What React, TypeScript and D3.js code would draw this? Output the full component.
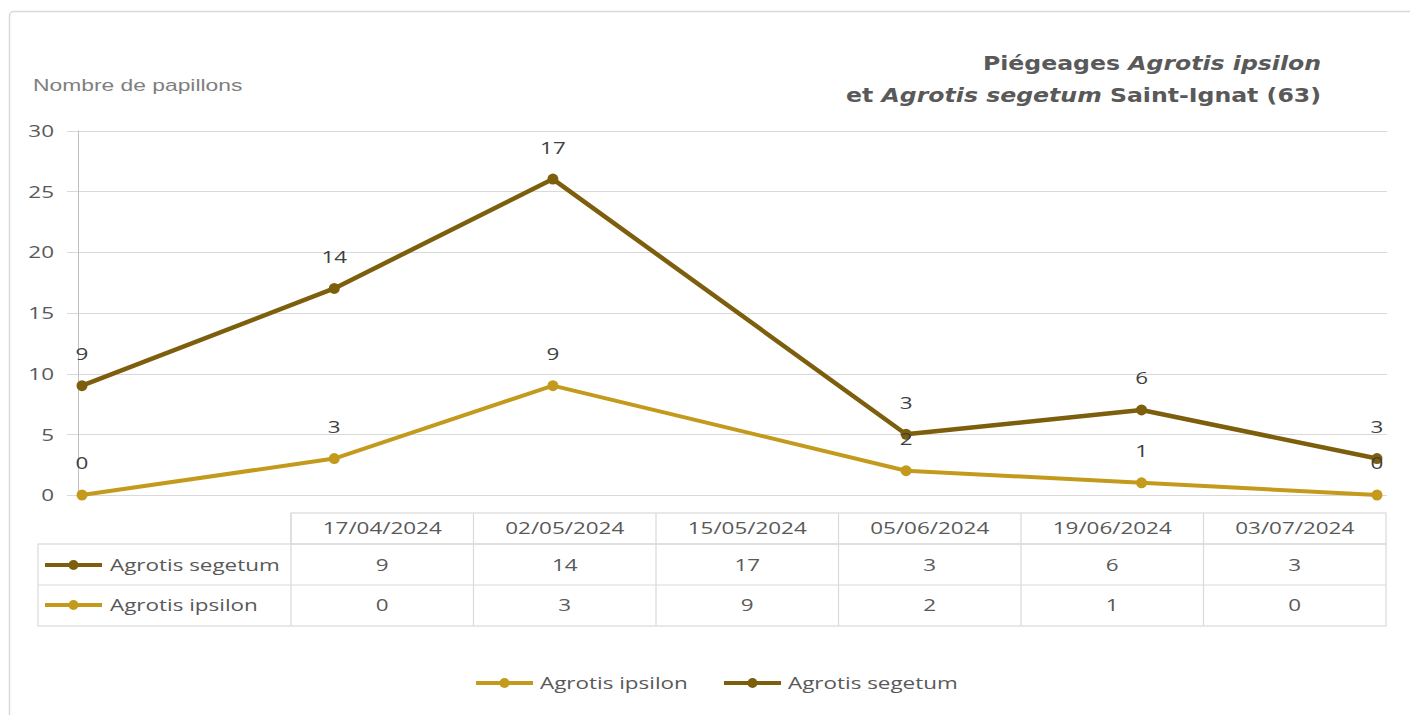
import React from "react";
import * as d3 from "d3";

// Trap counts per sampling date
const dateLabels = ["17/04/2024", "02/05/2024", "15/05/2024", "05/06/2024", "19/06/2024", "03/07/2024"];
const segetum = [9, 14, 17, 3, 6, 3];
const ipsilon = [0, 3, 9, 2, 1, 0];
const yTicks = [0, 5, 10, 15, 20, 25, 30];

const COL_SEGETUM = "#7C5E0C";
const COL_IPSILON = "#C49A1C";
const GRID = "#d9d9d9";
const TEXT = "#595959";
const SX = 1.32;

const parseDate = d3.timeParse("%d/%m/%Y");
const dates = dateLabels.map((s) => parseDate(s) as Date);

type TProps = {
  x: number;
  y: number;
  anchor?: "start" | "middle" | "end";
  size?: number;
  family?: string;
  weight?: string | number;
  fill?: string;
  sx?: number;
  children: React.ReactNode;
};

// Text drawn with a horizontal stretch around its anchor point
function ST({ x, y, anchor = "start", size = 17, family = "'Open Sans', sans-serif", weight = 400, fill = TEXT, sx = SX, children }: TProps) {
  return (
    <text
      transform={`translate(${x},${y}) scale(${sx},1)`}
      textAnchor={anchor}
      dominantBaseline="central"
      fontSize={size}
      fontFamily={family}
      fontWeight={weight}
      fill={fill}
    >
      {children}
    </text>
  );
}

function LegendKey({ x, y, color }: { x: number; y: number; color: string }) {
  return (
    <g>
      <line x1={x} x2={x + 57} y1={y} y2={y} stroke={color} strokeWidth={4} />
      <circle cx={x + 28.5} cy={y} r={5} fill={color} />
    </g>
  );
}

export default function App() {
  const W = 1410;
  const H = 715;

  const y = d3.scaleLinear().domain([0, 30]).range([495, 130.5]);
  const x = d3.scaleTime().domain([dates[0], dates[dates.length - 1]]).range([82, 1377]);

  // Stacked lines: segetum is plotted on top of ipsilon
  const rows = dates.map((d, i) => ({ date: d, ipsilon: ipsilon[i], segetum: segetum[i] }));
  const stack = d3.stack<any>().keys(["ipsilon", "segetum"]);
  const layers = stack(rows);
  const ipsPts = layers[0].map((p, i) => ({ x: x(dates[i]), y: y(p[1]), v: ipsilon[i] }));
  const segPts = layers[1].map((p, i) => ({ x: x(dates[i]), y: y(p[1]), v: segetum[i] }));

  const line = d3
    .line<{ x: number; y: number }>()
    .x((d) => d.x)
    .y((d) => d.y);

  const plotLeft = 78;
  const plotRight = 1387;

  // Data table below the chart
  const col = d3.scaleBand<string>().domain(dateLabels).range([291, 1386]);
  const tblLeft = 38;
  const rowY = [513, 544, 585, 626];

  return (
    <svg
      width={W}
      height={H}
      viewBox={`0 0 ${W} ${H}`}
      style={{ position: "absolute", left: 0, top: 0, background: "#fff" }}
    >
      <rect x={9.5} y={11.5} width={1430} height={740} rx={4} fill="#fff" stroke={GRID} strokeWidth={1.5} />

      {/* Title */}
      <ST x={1321} y={63} anchor="end" size={20} family="'DejaVu Sans', Verdana, sans-serif" weight={700} sx={1.18}>
        Piégeages <tspan fontStyle="italic">Agrotis ipsilon</tspan>
      </ST>
      <ST x={1321} y={95} anchor="end" size={20} family="'DejaVu Sans', Verdana, sans-serif" weight={700} sx={1.18}>
        et <tspan fontStyle="italic">Agrotis segetum</tspan> Saint-Ignat (63)
      </ST>

      {/* Axis title */}
      <ST x={33} y={85} size={17.3} family="'Liberation Sans', Arial, sans-serif" fill="#7f7f7f">
        Nombre de papillons
      </ST>

      {/* Grid and y axis */}
      {yTicks.map((t) => (
        <g key={t}>
          <line x1={67} x2={plotRight} y1={Math.round(y(t)) + 0.5} y2={Math.round(y(t)) + 0.5} stroke={GRID} strokeWidth={1} />
          <ST x={54} y={y(t)} anchor="end" size={17}>
            {t}
          </ST>
        </g>
      ))}
      <line x1={plotLeft + 0.5} x2={plotLeft + 0.5} y1={y(30)} y2={y(0)} stroke="#bfbfbf" strokeWidth={1} />

      {/* Series */}
      <path d={line(ipsPts) || ""} fill="none" stroke={COL_IPSILON} strokeWidth={4} strokeLinejoin="round" />
      {ipsPts.map((p, i) => (
        <circle key={"ic" + i} cx={p.x} cy={p.y} r={5.5} fill={COL_IPSILON} />
      ))}
      <path d={line(segPts) || ""} fill="none" stroke={COL_SEGETUM} strokeWidth={4.5} strokeLinejoin="round" />
      {segPts.map((p, i) => (
        <circle key={"sc" + i} cx={p.x} cy={p.y} r={5.5} fill={COL_SEGETUM} />
      ))}

      {/* Data labels */}
      {ipsPts.map((p, i) => (
        <ST key={"il" + i} x={p.x} y={p.y - 32} anchor="middle" size={17} fill="#404040">
          {p.v}
        </ST>
      ))}
      {segPts.map((p, i) => (
        <ST key={"sl" + i} x={p.x} y={p.y - 32} anchor="middle" size={17} fill="#404040">
          {p.v}
        </ST>
      ))}

      {/* Data table */}
      <g stroke={GRID} strokeWidth={1.2} fill="none">
        <rect x={291} y={rowY[0]} width={1386 - 291} height={rowY[1] - rowY[0]} />
        <rect x={tblLeft} y={rowY[1]} width={1386 - tblLeft} height={rowY[3] - rowY[1]} />
        <line x1={tblLeft} x2={1386} y1={rowY[2]} y2={rowY[2]} />
        {dateLabels.map((d) => (
          <line key={"v" + d} x1={col(d)} x2={col(d)} y1={rowY[0]} y2={rowY[3]} />
        ))}
      </g>
      {dateLabels.map((d, i) => (
        <g key={"t" + d}>
          <ST x={(col(d) as number) + col.bandwidth() / 2} y={528} anchor="middle">
            {d}
          </ST>
          <ST x={(col(d) as number) + col.bandwidth() / 2} y={565} anchor="middle">
            {segetum[i]}
          </ST>
          <ST x={(col(d) as number) + col.bandwidth() / 2} y={605} anchor="middle">
            {ipsilon[i]}
          </ST>
        </g>
      ))}
      <LegendKey x={45} y={565} color={COL_SEGETUM} />
      <ST x={110} y={565}>Agrotis segetum</ST>
      <LegendKey x={45} y={605} color={COL_IPSILON} />
      <ST x={110} y={605}>Agrotis ipsilon</ST>

      {/* Legend */}
      <LegendKey x={476} y={683} color={COL_IPSILON} />
      <ST x={540} y={683}>Agrotis ipsilon</ST>
      <LegendKey x={724} y={683} color={COL_SEGETUM} />
      <ST x={788} y={683}>Agrotis segetum</ST>
    </svg>
  );
}
